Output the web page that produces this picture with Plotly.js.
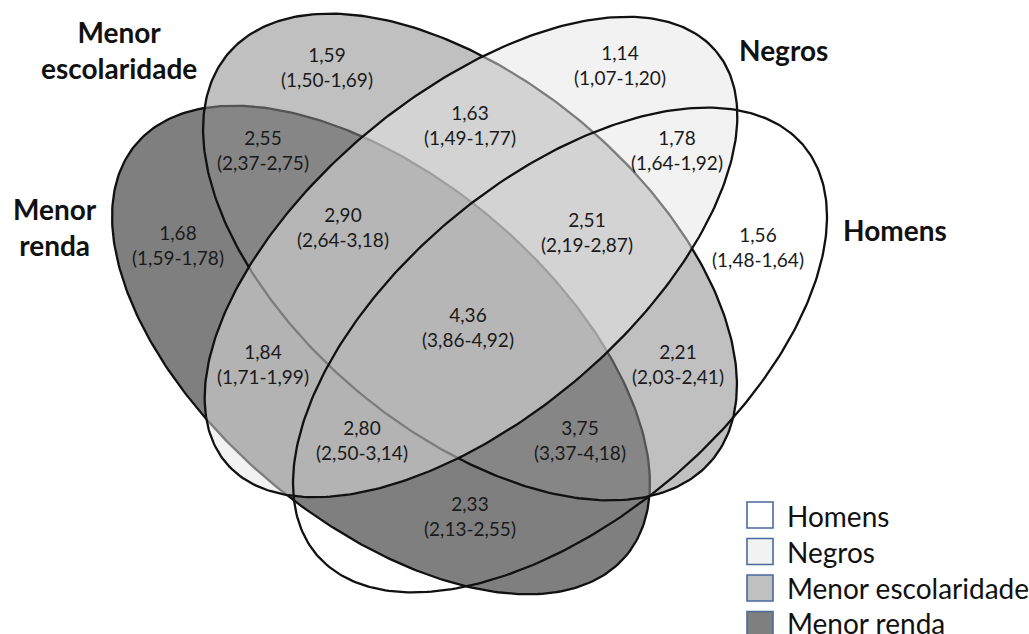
<!DOCTYPE html>
<html><head><meta charset="utf-8">
<script src="https://cdn.plot.ly/plotly-3.0.1.min.js"></script>
<style>html,body{margin:0;padding:0;background:#fff;} #chart{width:1029px;height:634px;}</style>
</head><body><div id="chart"></div>
<script>
// ---------------- data ----------------
const setNames = ['Menor renda', 'Menor escolaridade', 'Negros', 'Homens'];
const setKeys = ['R', 'E', 'N', 'H'];
const regionSets = ['R','E','N','H','RE','EN','NH','REN','ENH','RENH','RN','EH','RNH','REH','RH'];
const regionEstimates = ['1,68','1,59','1,14','1,56','2,55','1,63','1,78','2,90','2,51','4,36','1,84','2,21','2,80','3,75','2,33'];
const regionLower = ['1,59','1,50','1,07','1,48','2,37','1,49','1,64','2,64','2,19','3,86','1,71','2,03','2,50','3,37','2,13'];
const regionUpper = ['1,78','1,69','1,20','1,64','2,75','1,77','1,92','3,18','2,87','4,92','1,99','2,41','3,14','4,18','2,55'];
const legendOrder = ['Homens', 'Negros', 'Menor escolaridade', 'Menor renda'];

// ---------------- geometry / style (layout, not data) ----------------
const W = 1029, H = 634;
const ellipseGeom = {
  R: {cx: 381, cy: 350, a: 320, b: 172, rot: 40},
  E: {cx: 470, cy: 257, a: 316, b: 175, rot: 40},
  N: {cx: 471, cy: 257, a: 320, b: 162, rot: -40},
  H: {cx: 560, cy: 350, a: 318, b: 170, rot: -40}
};
const ellipseFill = {
  R: 'rgb(127,127,127)',
  E: 'rgba(140,140,140,0.55)',
  N: 'rgba(230,230,230,0.51)',
  H: null
};
const legendFill = {
  'Homens': '#ffffff', 'Negros': '#f2f2f2', 'Menor escolaridade': '#c0c0c0', 'Menor renda': '#7f7f7f'
};
const labelAnchor = {
  R: [178, 245], E: [327, 67], N: [620, 65], H: [758, 247],
  RE: [263, 150], EN: [470, 125], NH: [677, 150], REN: [343, 227], ENH: [587, 232],
  RENH: [468, 327], RN: [263, 364], EH: [678, 364], RNH: [362, 440], REH: [580, 440], RH: [470, 516]
};
const setLabelAnchor = {
  R: [55, 227], E: [119, 50], N: [783, 50], H: [895, 230]
};
const setLabelText = {
  R: 'Menor<br>renda', E: 'Menor<br>escolaridade', N: 'Negros', H: 'Homens'
};
const FONT = 'Lato, "Open Sans", "DejaVu Sans", sans-serif';

function ellipsePath(g, n) {
  const xs = [], ys = [];
  const t0 = g.rot * Math.PI / 180, c = Math.cos(t0), s = Math.sin(t0);
  for (let i = 0; i <= n; i++) {
    const t = 2 * Math.PI * i / n;
    const u = g.a * Math.cos(t), v = g.b * Math.sin(t);
    xs.push(g.cx + u * c - v * s);
    ys.push(g.cy + u * s + v * c);
  }
  return {xs, ys};
}

const traces = setKeys.map((k, i) => {
  const p = ellipsePath(ellipseGeom[k], 360);
  const tr = {
    type: 'scatter', mode: 'lines', x: p.xs, y: p.ys, name: setNames[i],
    line: {color: '#111111', width: 2.3}, hoverinfo: 'skip', showlegend: false
  };
  if (ellipseFill[k]) { tr.fill = 'toself'; tr.fillcolor = ellipseFill[k]; }
  else { tr.fill = 'none'; }
  return tr;
});

const annotations = [];
regionSets.forEach((r, i) => {
  const [x, y] = labelAnchor[r];
  annotations.push({
    x, y, xref: 'x', yref: 'y', showarrow: false,
    text: regionEstimates[i] + '<br>(' + regionLower[i] + '-' + regionUpper[i] + ')',
    font: {family: FONT, size: 19, color: '#1a1a1a'}, align: 'center'
  });
});
setKeys.forEach(k => {
  const [x, y] = setLabelAnchor[k];
  annotations.push({
    x, y, xref: 'x', yref: 'y', showarrow: false, text: '<b>' + setLabelText[k] + '</b>',
    font: {family: FONT, size: 28, color: '#111'}, align: 'center'
  });
});

const shapes = [];
legendOrder.forEach((name, i) => {
  const yc = 515 + i * 36.5;
  shapes.push({
    type: 'rect', xref: 'x', yref: 'y', x0: 747, x1: 773, y0: yc - 13, y1: yc + 13,
    fillcolor: legendFill[name], line: {color: '#4a6a9e', width: 1.6}
  });
  annotations.push({
    x: 785, y: 516 + i * 35.8, xref: 'x', yref: 'y', xanchor: 'left', yanchor: 'middle', showarrow: false,
    text: name, font: {family: FONT, size: 28, color: '#111'}
  });
});

const layout = {
  width: W, height: H, margin: {l: 0, r: 0, t: 0, b: 0},
  paper_bgcolor: '#fff', plot_bgcolor: '#fff', showlegend: false,
  xaxis: {range: [0, W], visible: false, fixedrange: true},
  yaxis: {range: [H, 0], visible: false, fixedrange: true},
  annotations, shapes
};
Plotly.newPlot('chart', traces, layout, {staticPlot: true, displayModeBar: false});
</script></body></html>
